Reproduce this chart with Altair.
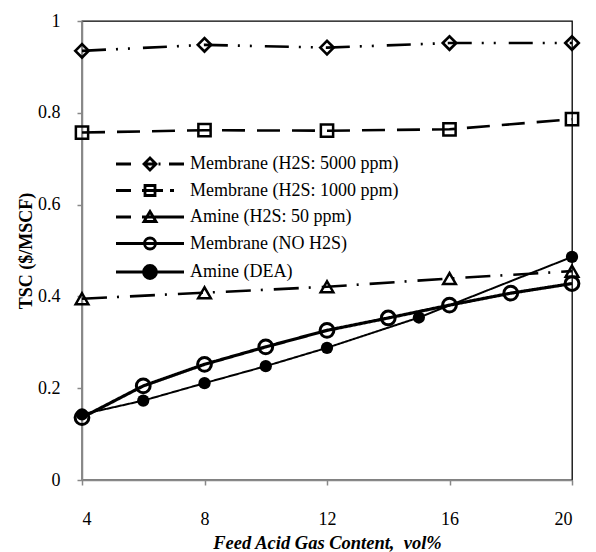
import altair as alt
import pandas as pd

series_names = [
    "Membrane (H2S: 5000 ppm)",
    "Membrane (H2S: 1000 ppm)",
    "Amine (H2S: 50 ppm)",
    "Membrane (NO H2S)",
    "Amine (DEA)",
]

x_m5000 = [4, 8, 12, 16, 20]
y_m5000 = [0.935, 0.948, 0.942, 0.952, 0.952]

x_m1000 = [4, 8, 12, 16, 20]
y_m1000 = [0.757, 0.762, 0.761, 0.764, 0.786]

x_a50 = [4, 8, 12, 16, 20]
y_a50 = [0.395, 0.408, 0.421, 0.439, 0.455]

x_mno = [4, 6, 8, 10, 12, 14, 16, 18, 20]
y_mno = [0.136, 0.205, 0.252, 0.290, 0.326, 0.353, 0.381, 0.407, 0.428]

x_dea = [4, 6, 8, 10, 12, 15, 20]
y_dea = [0.143, 0.173, 0.211, 0.248, 0.288, 0.354, 0.486]

x_ticks = [4, 8, 12, 16, 20]
y_ticks = [0, 0.2, 0.4, 0.6, 0.8, 1]

all_x = [x_m5000, x_m1000, x_a50, x_mno, x_dea]
all_y = [y_m5000, y_m1000, y_a50, y_mno, y_dea]

rows = []
for name, xs, ys in zip(series_names, all_x, all_y):
    for xv, yv in zip(xs, ys):
        rows.append({"series": name, "x": xv, "y": yv})
df = pd.DataFrame(rows)

FONT = "Liberation Serif"

x_enc = alt.X(
    "x:Q",
    scale=alt.Scale(domain=[4, 20], nice=False, zero=False),
    axis=alt.Axis(
        values=x_ticks,
        title="Feed Acid Gas Content,\u00a0 vol%",
        titleFontStyle="italic",
        titleFontWeight="bold",
        titleFontSize=18.5,
        labelPadding=25,
        titlePadding=5,
    ),
)
y_enc = alt.Y(
    "y:Q",
    scale=alt.Scale(domain=[0, 1], nice=False),
    axis=alt.Axis(
        values=y_ticks,
        format="~g",
        title="TSC ($/MSCF)",
        titleFontWeight="bold",
        titleFontSize=18,
        labelPadding=17,
        titlePadding=2,
    ),
)

# per-series styles
dashes = [[24, 10, 2, 10, 2, 13], [23, 12], [25, 10, 2, 11], [1, 0], [1, 0]]
widths = [2.6, 2.6, 2.6, 3.2, 2.0]
shapes = ["diamond", "square", "triangle-up", "circle", "circle"]
sizes = [180, 150, 160, 190, 150]
filled = [False, False, False, False, True]
mstroke = [2.7, 2.5, 2.5, 3.0, 2.0]

layers = []
for i, name in enumerate(series_names):
    base = alt.Chart(df).transform_filter(alt.datum.series == name)
    layers.append(
        base.mark_line(color="black", strokeDash=dashes[i], strokeWidth=widths[i], strokeCap="butt")
        .encode(x=x_enc, y=y_enc)
    )
for i, name in enumerate(series_names):
    base = alt.Chart(df).transform_filter(alt.datum.series == name)
    layers.append(
        base.mark_point(
            shape=shapes[i],
            size=sizes[i],
            filled=filled[i],
            color="black",
            strokeWidth=mstroke[i],
            opacity=1,
        ).encode(x=x_enc, y=y_enc)
    )

legend_paths = [
    "M-6.8,0H-3.8M-1.2,0L0,-1.2L1.2,0L0,1.2ZM-1.2,0H1.2M1.7,0H2.1M3.8,0H6.8",
    "M-6.8,0H-3.8M-1,-1H1V1H-1ZM-1.6,0H2.6M4,0H4.8",
    "M-6.8,0H-3.8M0,-1.1L1.2,0.9H-1.2ZM-1.6,0H6.8",
    "M-6.8,0H6.8M1.1,0A1.1,1.1,0,1,1,-1.1,0A1.1,1.1,0,1,1,1.1,0Z",
    "M-6.8,0H6.8M1.3,0A1.3,1.3,0,1,1,-1.3,0A1.3,1.3,0,1,1,1.3,0Z",
]
legend_fill = ["transparent", "transparent", "transparent", "transparent", "black"]
legend_stroke = ["black", "black", "black", "black", "black"]

legend_layer = (
    alt.Chart(df)
    .transform_filter("false")
    .mark_point(stroke="black", strokeWidth=2.8, opacity=1)
    .encode(
        x=x_enc,
        y=y_enc,
        shape=alt.Shape(
            "series:N",
            title=None,
            scale=alt.Scale(domain=series_names, range=legend_paths),
        ),
        fill=alt.Fill(
            "series:N",
            title=None,
            scale=alt.Scale(domain=series_names, range=legend_fill),
        ),
        stroke=alt.Stroke(
            "series:N",
            title=None,
            scale=alt.Scale(domain=series_names, range=legend_stroke),
        ),
    )
)
layers.append(legend_layer)

chart = (
    alt.layer(*layers)
    .properties(
        width=490,
        height=459,
        autosize=alt.AutoSizeParams(type="none"),
        padding={"left": 74, "top": 13, "right": 10, "bottom": 80},
    )
    .configure_view(stroke="black", strokeWidth=1.3)
    .configure_axis(
        grid=False,
        domainColor="#888888",
        domainWidth=1.5,
        tickColor="#888888",
        tickWidth=1.5,
        tickSize=5,
        labelFont=FONT,
        labelFontSize=18,
        labelColor="black",
        titleFont=FONT,
        titleColor="black",
    )
    .configure_legend(
        orient="none",
        legendX=59,
        legendY=134,
        labelFont=FONT,
        labelFontSize=18,
        labelColor="black",
        symbolSize=100,
        symbolStrokeWidth=2.8,
        symbolStrokeColor="black",
        labelOffset=31,
        rowPadding=3.5,
        padding=0,
        labelLimit=400,
    )
)

chart.save("out.html", embed_options={"renderer": "svg", "actions": False})
